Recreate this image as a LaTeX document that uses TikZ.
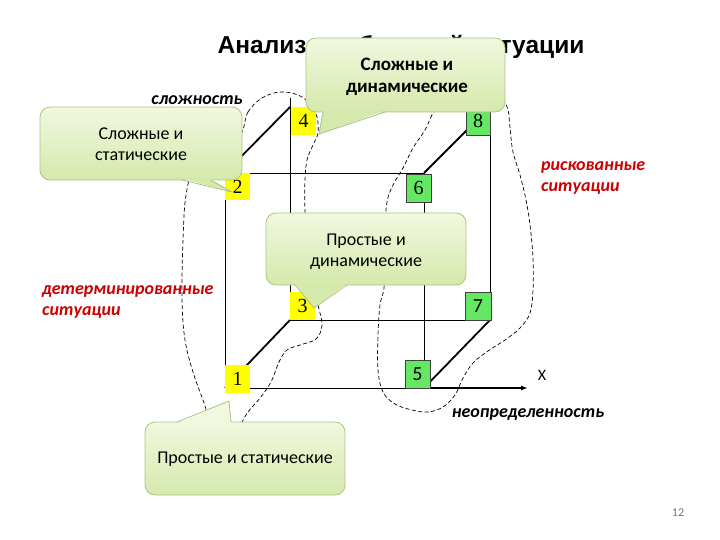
\documentclass[tikz,border=0pt]{standalone}
\usepackage{fontspec}
\setmainfont{Carlito}
\newfontfamily\titlefont{Liberation Sans}
\newfontfamily\numserif{Liberation Serif}
\usetikzlibrary{arrows.meta}
\definecolor{byellow}{HTML}{FFFF00}
\definecolor{bgreen}{HTML}{64E864}
\definecolor{redlab}{HTML}{CC0000}
\definecolor{calltop}{HTML}{F1F8DF}
\definecolor{callbot}{HTML}{D5E9AC}
\definecolor{callline}{HTML}{ABC585}
\begin{document}
\begin{tikzpicture}[x=1pt,y=-1pt,
  edge/.style={line width=0.9pt, black},
  diagedge/.style={line width=1.8pt, black},
  axisline/.style={line width=1.8pt, black, -{Latex[length=7pt,width=5pt]}},
  blob/.style={line width=0.7pt, black, dash pattern=on 4pt off 2.5pt},
  ybox/.style={fill=byellow, minimum width=25pt, minimum height=28pt, inner sep=0pt, font=\numserif\fontsize{20}{20}\selectfont},
  gbox/.style={fill=bgreen, draw=black!75, line width=0.6pt, minimum width=25pt, minimum height=28pt, inner sep=0pt, font=\numserif\fontsize{20}{20}\selectfont},
  gboxs/.style={gbox, font=\fontsize{20}{20}\selectfont},
  callbody/.style={top color=calltop, bottom color=callbot, draw=callline, line width=0.8pt, rounded corners=10pt},
  tailfill/.style={fill=#1, draw=none},
  tailline/.style={draw=callline, line width=0.8pt},
  calltext/.style={align=center, inner sep=0pt, font=\fontsize{18}{21}\selectfont},
  redtext/.style={text=redlab, align=left, inner sep=0pt, font=\bfseries\itshape\fontsize{18}{21}\selectfont},
  blacktext/.style={inner sep=0pt, font=\bfseries\itshape\fontsize{18}{21}\selectfont}
]
\useasboundingbox (0,0) rectangle (720,540);

% title (partly hidden by a callout)
\node[inner sep=0pt, font=\titlefont\bfseries\fontsize{24.5}{24.5}\selectfont] (title) at (401,47) {Анализ проблемной ситуации};

% cube corners
\coordinate (FBL) at (225,388);
\coordinate (FBR) at (424,388);
\coordinate (FTL) at (225,173);
\coordinate (FTR) at (424,173);
\coordinate (BBL) at (290,320);
\coordinate (BBR) at (490,320);
\coordinate (BTL) at (290,107);
\coordinate (BTR) at (490,107);
\coordinate (Ytop) at (290,98);
\coordinate (Xend) at (528,388);

\draw[edge] (FTL) -- (FTR) -- (FBR) -- (FBL) -- cycle;
\draw[edge] (BTL) -- (BTR) -- (BBR) -- (BBL) -- cycle;
\draw[edge] (BTL) -- (Ytop);
\draw[diagedge] (FBL) -- (BBL);
\draw[diagedge] (FTL) -- (BTL);
\draw[diagedge] (FTR) -- (BTR);
\draw[diagedge] (FBR) -- (BBR);
\draw[axisline] (FBR) -- (Xend);

% dashed regions
\draw[blob] plot[smooth cycle, tension=0.6] coordinates {
 (242,132) (248,112) (262,98) (280,92) (298,95) (310,104) (317,117) (318,133)
 (313,145) (307,160) (305,180) (305,210) (308,250) (314,285) (318,305) (322,325)
 (316,339) (300,345) (287,350) (279,362) (271,382) (260,398) (248,412) (238,428)
 (225,440) (212,425) (203,400) (193,372) (185,340) (182,300) (183,240) (186,195)
 (195,165) (215,148) (232,138)};
\draw[blob] plot[smooth cycle, tension=0.6] coordinates {
 (440,103) (432,115) (425,130) (413,148) (403,168) (393,185) (387,202) (385,230)
 (385,260) (384,288) (380,305) (378,335) (378,370) (383,392) (395,404) (412,410)
 (428,412) (443,407) (455,395) (463,378) (473,363) (488,351) (505,340) (520,328)
 (530,313) (533,290) (533,258) (530,225) (526,200) (520,175) (513,152) (510,128)
 (508,110) (501,97) (482,86) (458,88)};

% corner boxes
\node[ybox] (b1) at (237.5,379) {1};
\node[ybox, minimum height=27pt] (b2) at (237.5,186.5) {2};
\node[ybox] (b3) at (302.5,306) {3};
\node[ybox] (b4) at (303.5,121) {4};
\node[gboxs] (b5) at (417.5,374) {5};
\node[gbox] (b6) at (418.5,188) {6};
\node[gboxs, minimum width=26pt] (b7) at (478,306) {7};
\node[gbox, minimum width=24pt] (b8) at (478,121) {8};

% callout 1
\path[callbody] (306,38) rectangle (505,112);
\fill[tailfill=callbot] (323,110.5) -- (385,110.5) -- (319,134) -- cycle;
\draw[tailline] (323,112) -- (319,134) -- (385,112);
\node[calltext, font=\bfseries\fontsize{19}{22}\selectfont] (c1) at (407,77) {Сложные и\\динамические};

% callout 2
\path[callbody] (40,107) rectangle (242,180);
\fill[tailfill=callbot] (182,178.5) -- (210,178.5) -- (232,192) -- cycle;
\draw[tailline] (182,180) -- (232,192) -- (210,180);
\node[calltext] (c2) at (141,144) {Сложные и\\статические};

% callout 3
\path[callbody] (266,213) rectangle (466,285);
\fill[tailfill=callbot] (295,283.5) -- (347,283.5) -- (314,308) -- cycle;
\draw[tailline] (295,285) -- (314,308) -- (347,285);
\node[calltext] (c3) at (366,252) {Простые и\\динамические};

% callout 4
\path[callbody] (145,422) rectangle (345,495);
\fill[tailfill=calltop] (177,423.5) -- (231,423.5) -- (229,401) -- cycle;
\draw[tailline] (177,422) -- (229,401) -- (231,422);
\node[calltext] (c4) at (245,459) {Простые и статические};

% labels
\node[blacktext] (slozh) at (197,100) {сложность};
\node[redtext, anchor=west] (det) at (42,302) {детерминированные\\ситуации};
\node[redtext, anchor=west] (risk) at (541,178) {рискованные\\ситуации};
\node[blacktext] (neop) at (528,415) {неопределенность};
\node[inner sep=0pt, font=\fontsize{16}{16}\selectfont] (xlab) at (542,375) {X};
\node[inner sep=0pt, text=black!55, font=\fontsize{12}{12}\selectfont] (pg) at (678,513) {12};
\end{tikzpicture}
\end{document}
